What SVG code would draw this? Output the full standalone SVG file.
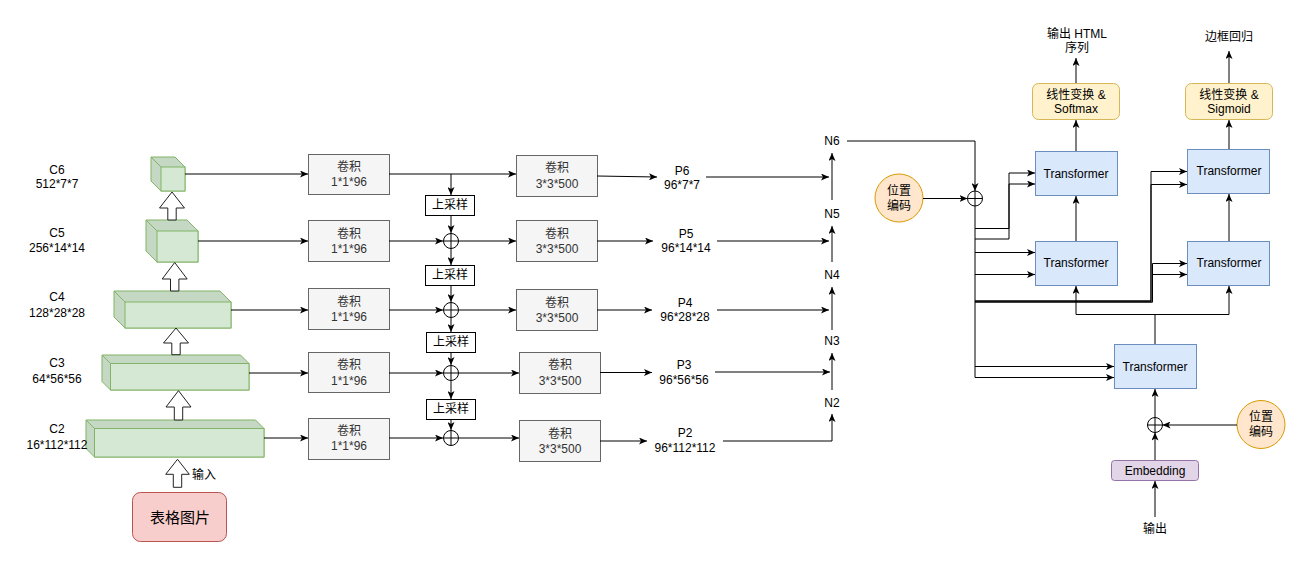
<svg xmlns="http://www.w3.org/2000/svg" width="1305" height="563" viewBox="0 0 1305 563">
<style>
text{font-family:"Liberation Sans","Noto Sans CJK SC",sans-serif;font-size:12px;text-anchor:middle;dominant-baseline:central;fill:#000}
.cube .back{fill:#c5d8c4;stroke:#82b366}
.cube .front{fill:#d5e8d4;stroke:#82b366}
.cube line{stroke:#82b366}
.conv rect{fill:#f5f5f5;stroke:#666}
.conv text{fill:#333}
.up rect{fill:#fff;stroke:#000}
.plus circle{fill:#fff;stroke:#000}
.plus line{stroke:#000}
.tf rect{fill:#dae8fc;stroke:#6c8ebf}
.lin rect{fill:#fff2cc;stroke:#d6b656}
.pos circle{fill:#ffe6cc;stroke:#d79b00}
.emb rect{fill:#e1d5e7;stroke:#9673a6}
.block{fill:#fff;stroke:#222}
.e{fill:none;stroke:#000;stroke-width:1;marker-end:url(#a)}
.n{fill:none;stroke:#000;stroke-width:1}
</style>
<defs>
<marker id="a" markerUnits="userSpaceOnUse" viewBox="0 0 8 7" refX="8" refY="3.5" markerWidth="8" markerHeight="7" orient="auto">
<path d="M0,0 L8,3.5 L0,7 L2,3.5 z" fill="#000"/>
</marker>
</defs>
<rect width="1305" height="563" fill="#fff"/>

<!-- backbone cubes -->
<g id="C6" class="cube"><polygon class="back" points="151,157 175,157 185,167 185,191 161,191 151,181"/><rect class="front" x="161" y="167" width="24" height="24"/><line x1="151" y1="157" x2="161" y2="167"/></g>
<g id="C5" class="cube"><polygon class="back" points="146,220 187,220 198,231 198,262 157,262 146,251"/><rect class="front" x="157" y="231" width="41" height="31"/><line x1="146" y1="220" x2="157" y2="231"/></g>
<g id="C4" class="cube"><polygon class="back" points="114,291 220,291 231,302 231,328 125,328 114,317"/><rect class="front" x="125" y="302" width="106" height="26"/><line x1="114" y1="291" x2="125" y2="302"/></g>
<g id="C3" class="cube"><polygon class="back" points="102,355 240.5,355 249,363.5 249,390 110.5,390 102,381.5"/><rect class="front" x="110.5" y="363.5" width="138.5" height="26.5"/><line x1="102" y1="355" x2="110.5" y2="363.5"/></g>
<g id="C2" class="cube"><polygon class="back" points="86,420 255.5,420 264,428.5 264,457 94.5,457 86,448.5"/><rect class="front" x="94.5" y="428.5" width="169.5" height="28.5"/><line x1="86" y1="420" x2="94.5" y2="428.5"/></g>

<g id="labels-C">
<text x="57" y="170">C6</text><text x="57" y="184">512*7*7</text>
<text x="57" y="233">C5</text><text x="57" y="248">256*14*14</text>
<text x="57" y="297">C4</text><text x="57" y="313">128*28*28</text>
<text x="57" y="363">C3</text><text x="57" y="379">64*56*56</text>
<text x="57" y="429">C2</text><text x="57" y="445">16*112*112</text>
</g>

<g id="block-arrows">
<polygon class="block" points="172,192 184.5,208 176.2,208 176.2,220 167.8,220 167.8,208 159.5,208"/>
<polygon class="block" points="174.7,262.5 187.2,279 178.9,279 178.9,291 170.5,291 170.5,279 162.2,279"/>
<polygon class="block" points="176,328 188.5,343 180.2,343 180.2,354.7 171.8,354.7 171.8,343 163.5,343"/>
<polygon class="block" points="178.5,390.7 191,407 182.7,407 182.7,420 174.3,420 174.3,407 166,407"/>
<polygon class="block" points="177.5,459.3 189.3,474.3 181.7,474.3 181.7,487.3 173.3,487.3 173.3,474.3 165.7,474.3"/>
<text x="204" y="475">输入</text>
</g>

<g id="input-image"><rect x="132.5" y="492.5" width="94" height="49" rx="8" fill="#f8cecc" stroke="#b85450"/><text x="180" y="517" style="font-size:15px">表格图片</text></g>

<!-- 1x1 convs -->
<g id="conv1-6" class="conv"><rect x="308.5" y="154.5" width="81" height="40"/><text x="349" y="167">卷积</text><text x="349" y="182">1*1*96</text></g>
<g id="conv1-5" class="conv"><rect x="308.5" y="220.5" width="81" height="41"/><text x="349" y="234">卷积</text><text x="349" y="249">1*1*96</text></g>
<g id="conv1-4" class="conv"><rect x="308.5" y="288.5" width="81" height="41"/><text x="349" y="302">卷积</text><text x="349" y="317">1*1*96</text></g>
<g id="conv1-3" class="conv"><rect x="308.5" y="352.5" width="81" height="40"/><text x="349" y="365">卷积</text><text x="349" y="381">1*1*96</text></g>
<g id="conv1-2" class="conv"><rect x="308.5" y="418.5" width="81" height="41"/><text x="349" y="431">卷积</text><text x="349" y="446">1*1*96</text></g>

<!-- 3x3 convs -->
<g id="conv3-6" class="conv"><rect x="516.5" y="155.5" width="81" height="41"/><text x="557" y="168">卷积</text><text x="557" y="184">3*3*500</text></g>
<g id="conv3-5" class="conv"><rect x="516.5" y="220.5" width="81" height="41"/><text x="557" y="234">卷积</text><text x="557" y="249">3*3*500</text></g>
<g id="conv3-4" class="conv"><rect x="516.5" y="289.5" width="81" height="41"/><text x="557" y="303">卷积</text><text x="557" y="318">3*3*500</text></g>
<g id="conv3-3" class="conv"><rect x="519.5" y="352.5" width="81" height="41"/><text x="560" y="365">卷积</text><text x="560" y="381">3*3*500</text></g>
<g id="conv3-2" class="conv"><rect x="519.5" y="420.5" width="81" height="41"/><text x="560" y="434">卷积</text><text x="560" y="449">3*3*500</text></g>

<!-- upsample -->
<g id="up1" class="up"><rect x="425.5" y="195.5" width="49" height="20"/><text x="450" y="205">上采样</text></g>
<g id="up2" class="up"><rect x="425.5" y="265.5" width="49" height="20"/><text x="450" y="275">上采样</text></g>
<g id="up3" class="up"><rect x="426.5" y="332.5" width="49" height="20"/><text x="451" y="342">上采样</text></g>
<g id="up4" class="up"><rect x="426.5" y="399.5" width="49" height="20"/><text x="451" y="409">上采样</text></g>

<!-- plus nodes -->
<g id="plus1" class="plus"><circle cx="451" cy="241" r="7.5"/><line x1="443.5" y1="241" x2="458.5" y2="241"/><line x1="451" y1="233.5" x2="451" y2="248.5"/></g>
<g id="plus2" class="plus"><circle cx="451" cy="310" r="7.5"/><line x1="443.5" y1="310" x2="458.5" y2="310"/><line x1="451" y1="302.5" x2="451" y2="317.5"/></g>
<g id="plus3" class="plus"><circle cx="451" cy="373" r="7.5"/><line x1="443.5" y1="373" x2="458.5" y2="373"/><line x1="451" y1="365.5" x2="451" y2="380.5"/></g>
<g id="plus4" class="plus"><circle cx="451" cy="438" r="7.5"/><line x1="443.5" y1="438" x2="458.5" y2="438"/><line x1="451" y1="430.5" x2="451" y2="445.5"/></g>

<!-- P labels -->
<g id="P6"><text x="682" y="171">P6</text><text x="682" y="185">96*7*7</text></g>
<g id="P5"><text x="686" y="234">P5</text><text x="686" y="248">96*14*14</text></g>
<g id="P4"><text x="685" y="303">P4</text><text x="685" y="317">96*28*28</text></g>
<g id="P3"><text x="684" y="365">P3</text><text x="684" y="380">96*56*56</text></g>
<g id="P2"><text x="685" y="433">P2</text><text x="685" y="448">96*112*112</text></g>

<!-- N labels -->
<g id="N6"><text x="832" y="141">N6</text></g>
<g id="N5"><text x="832" y="214">N5</text></g>
<g id="N4"><text x="832" y="275">N4</text></g>
<g id="N3"><text x="832" y="341">N3</text></g>
<g id="N2"><text x="832" y="403">N2</text></g>

<!-- decoder -->
<g id="pos1" class="pos"><circle cx="899" cy="198" r="24"/><text x="899" y="191">位置</text><text x="899" y="206">编码</text></g>
<g id="plus5" class="plus"><circle cx="975" cy="198.5" r="7.5"/><line x1="967.5" y1="198.5" x2="982.5" y2="198.5"/><line x1="975" y1="191" x2="975" y2="206"/></g>
<g id="T1" class="tf"><rect x="1035.5" y="151.5" width="82" height="44"/><text x="1076" y="174">Transformer</text></g>
<g id="T2" class="tf"><rect x="1035.5" y="241.5" width="82" height="44"/><text x="1076" y="263">Transformer</text></g>
<g id="T3" class="tf"><rect x="1187.5" y="149.5" width="82" height="44"/><text x="1229" y="171">Transformer</text></g>
<g id="T4" class="tf"><rect x="1187.5" y="241.5" width="82" height="44"/><text x="1229" y="263">Transformer</text></g>
<g id="T5" class="tf"><rect x="1114.5" y="344.5" width="82" height="44"/><text x="1155" y="367">Transformer</text></g>
<g id="lin1" class="lin"><rect x="1032.5" y="83.5" width="87" height="36" rx="6"/><text x="1076" y="95">线性变换 &amp;</text><text x="1076" y="109">Softmax</text></g>
<g id="lin2" class="lin"><rect x="1185.5" y="83.5" width="87" height="36" rx="6"/><text x="1229" y="95">线性变换 &amp;</text><text x="1229" y="109">Sigmoid</text></g>
<g id="out1"><text x="1077" y="34">输出 HTML</text><text x="1077" y="48">序列</text></g>
<g id="out2"><text x="1229" y="37">边框回归</text></g>
<g id="plus6" class="plus"><circle cx="1155" cy="425" r="7.5"/><line x1="1147.5" y1="425" x2="1162.5" y2="425"/><line x1="1155" y1="417.5" x2="1155" y2="432.5"/></g>
<g id="pos2" class="pos"><circle cx="1261" cy="424.5" r="24"/><text x="1261" y="417">位置</text><text x="1261" y="432">编码</text></g>
<g id="emb" class="emb"><rect x="1111.5" y="460.5" width="87" height="20" rx="3"/><text x="1155" y="470.5">Embedding</text></g>
<g id="outin"><text x="1155" y="529">输出</text></g>

<g id="connectors">
<!-- cube to conv1 -->
<path class="e" d="M185,174 H308"/>
<path class="e" d="M198,241 H308"/>
<path class="e" d="M231,310 H308"/>
<path class="e" d="M249,373 H308"/>
<path class="e" d="M264,438 H308"/>
<!-- conv1 to plus / conv3 -->
<path class="e" d="M389,174 H516"/>
<path class="e" d="M451,174 V195"/>
<path class="e" d="M389,241 H443"/>
<path class="e" d="M459,241 H516"/>
<path class="e" d="M389,310 H443"/>
<path class="e" d="M459,310 H516"/>
<path class="e" d="M389,373 H443"/>
<path class="e" d="M459,373 H519"/>
<path class="e" d="M389,438 H443"/>
<path class="e" d="M459,438 H519"/>
<!-- vertical chain -->
<path class="e" d="M451,215 V233"/>
<path class="e" d="M451,249 V265"/>
<path class="e" d="M451,285 V302"/>
<path class="e" d="M451,318 V332"/>
<path class="e" d="M451,352 V365"/>
<path class="e" d="M451,381 V399"/>
<path class="e" d="M451,419 V430"/>
<!-- conv3 to P -->
<path class="e" d="M597,176 L657,177"/>
<path class="e" d="M597,241 H653"/>
<path class="e" d="M597,310 H652"/>
<path class="e" d="M600,372.5 H652"/>
<path class="e" d="M600,441 H647"/>
<!-- P to N -->
<path class="e" d="M706,177 H829"/>
<path class="e" d="M717,241 H829"/>
<path class="e" d="M717,310 H829"/>
<path class="e" d="M715,372 H830"/>
<path class="e" d="M723,441 H832 V414"/>
<path class="e" d="M832,200 V153"/>
<path class="e" d="M832,262 V226"/>
<path class="e" d="M832,330 V287"/>
<path class="e" d="M832,390 V353"/>
<!-- N6 to decoder -->
<path class="e" d="M847,141 H975 V191"/>
<path class="e" d="M923,198.5 H967.5"/>
<path class="n" d="M975,206 V377.5"/>
<path class="e" d="M975,228.5 H1009 V184 H1035"/>
<path class="e" d="M975,239 H1009 V173 H1035"/>
<path class="e" d="M975,252.5 H1035"/>
<path class="e" d="M975,274.5 H1035"/>
<path class="e" d="M975,301 H1151 V171.5 H1187"/>
<path class="e" d="M975,301 H1151 V184.5 H1187"/>
<path class="e" d="M975,302 H1152.5 V263.5 H1187"/>
<path class="e" d="M975,302 H1152.5 V274.5 H1187"/>
<path class="e" d="M975,366.5 H1114"/>
<path class="e" d="M975,377.5 H1114"/>
<path class="e" d="M1076,241 V196"/>
<path class="e" d="M1076,151 V120"/>
<path class="e" d="M1076,83 V58"/>
<path class="e" d="M1229,241 V194"/>
<path class="e" d="M1229,149 V120"/>
<path class="e" d="M1229,83 V51"/>
<path class="n" d="M1155,344 V314.5"/>
<path class="e" d="M1155,314.5 H1076 V286"/>
<path class="e" d="M1155,314.5 H1229 V286"/>
<path class="e" d="M1155,417.5 V389"/>
<path class="e" d="M1237,425 H1162.5"/>
<path class="e" d="M1155,460 V432.5"/>
<path class="e" d="M1155,517 V481"/>
</g>
</svg>
